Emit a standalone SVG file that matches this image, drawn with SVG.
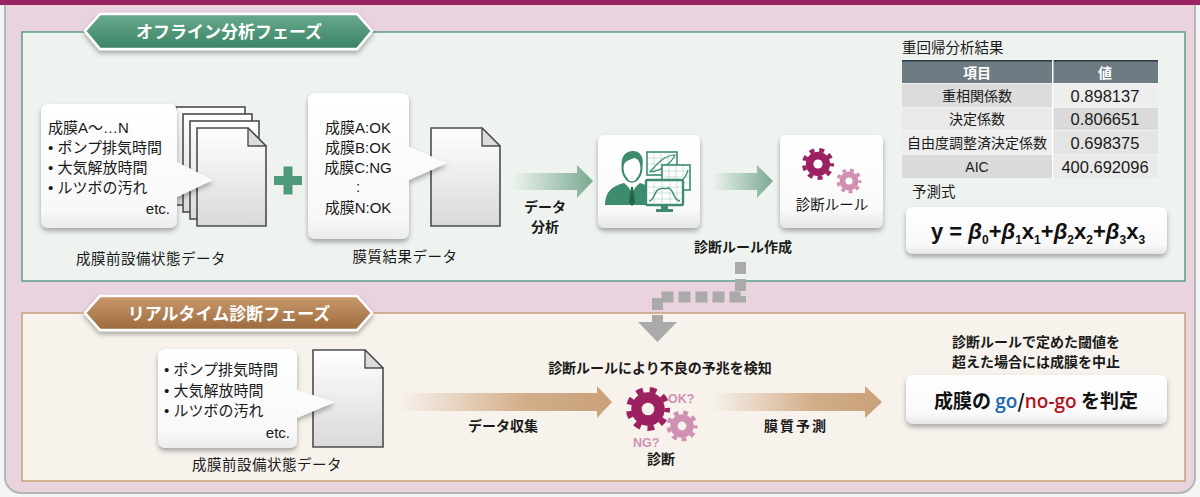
<svg xmlns="http://www.w3.org/2000/svg" width="1200" height="497" viewBox="0 0 1200 497">
  <style>
    .jp { font-family: "Liberation Sans", "Noto Sans CJK JP", sans-serif; fill: #1a1a1a; }
    .b { font-weight: 700; }
    .bubbletxt { font-size: 15px; }
    .lbl { font-size: 14.5px; letter-spacing: 0.5px; }
    .blbl { font-size: 14px; font-weight: 700; font-family: "Noto Sans CJK JP", sans-serif; fill: #1a1a1a; }
    .banner-t { font-family: "Noto Sans CJK JP", sans-serif; font-size: 17px; font-weight: 700; fill: #ffffff; }
    .doc { stroke: #4d4d4d; stroke-width: 1.6; fill: url(#docFill); }
    .fold { stroke: #4d4d4d; stroke-width: 1.4; fill: #dcdcdc; stroke-linejoin: round; }
    .bubble { fill: url(#bubFill); filter: url(#shadow); }
    .card { fill: url(#cardFill); filter: url(#shadow); }
    .cell { font-size: 14px; }
    .num { font-size: 16.5px; }
    .grid { stroke: #a8cdbd; stroke-width: 0.6; }
    .chart { fill: #ffffff; stroke: #3d8c6e; stroke-width: 1.6; }
  </style>
  <defs>
    <filter id="shadow" x="-20%" y="-20%" width="140%" height="150%">
      <feDropShadow dx="0" dy="3" stdDeviation="2.5" flood-color="#000" flood-opacity="0.32"/>
    </filter>
    <linearGradient id="docFill" x1="0" y1="0" x2="0" y2="1">
      <stop offset="0" stop-color="#ffffff"/>
      <stop offset="1" stop-color="#d9d9d9"/>
    </linearGradient>
    <linearGradient id="bubFill" x1="0" y1="0" x2="0" y2="1">
      <stop offset="0" stop-color="#ffffff"/>
      <stop offset="0.85" stop-color="#f8f8f8"/>
      <stop offset="1" stop-color="#ececec"/>
    </linearGradient>
    <linearGradient id="cardFill" x1="0" y1="0" x2="0" y2="1">
      <stop offset="0" stop-color="#ffffff"/>
      <stop offset="0.8" stop-color="#f9f9f9"/>
      <stop offset="1" stop-color="#e6e6e6"/>
    </linearGradient>
    <linearGradient id="greenBanner" x1="0" y1="0" x2="0" y2="1">
      <stop offset="0" stop-color="#6aaa8f"/>
      <stop offset="1" stop-color="#3a8364"/>
    </linearGradient>
    <linearGradient id="brownBanner" x1="0" y1="0" x2="0" y2="1">
      <stop offset="0" stop-color="#c99a6c"/>
      <stop offset="1" stop-color="#9c6a3d"/>
    </linearGradient>
    <linearGradient id="greenArrow" x1="0" y1="0" x2="1" y2="0">
      <stop offset="0" stop-color="#eef3ef"/>
      <stop offset="1" stop-color="#7aa991"/>
    </linearGradient>
    <linearGradient id="brownArrow" x1="0" y1="0" x2="1" y2="0">
      <stop offset="0" stop-color="#f7f2ec"/>
      <stop offset="0.6" stop-color="#d2ad88"/>
      <stop offset="1" stop-color="#c9a17b"/>
    </linearGradient>
    <!-- unit gear, coloured with currentColor -->
    <g id="gear">
      <circle r="0.76" fill="currentColor"/>
      <circle r="0.87" fill="none" stroke="currentColor" stroke-width="0.26" pathLength="80" stroke-dasharray="5 5" stroke-dashoffset="2.5"/>
    </g>
  </defs>

  <!-- frame -->
  <rect x="0" y="0" width="1200" height="497" fill="#f4f4f4"/>
  <rect x="5" y="-20" width="1190" height="513" rx="16" fill="#e8d3df" stroke="#b5b5b5" stroke-width="2"/>
  <rect x="0" y="0" width="1200" height="5" fill="#9a2262"/>

  <!-- offline phase panel -->
  <g id="offline-panel">
    <rect x="22" y="32" width="1163" height="249" fill="#eef3ef" stroke="#5c9f86" stroke-width="1.5"/>
    <g filter="url(#shadow)">
      <polygon points="85,31 100,14 357,14 372,31 357,49 100,49" fill="url(#greenBanner)" stroke="#ffffff" stroke-width="2.5"/>
    </g>
    <text x="229" y="38" text-anchor="middle" class="banner-t">オフライン分析フェーズ</text>
  </g>

  <!-- realtime phase panel -->
  <g id="realtime-panel">
    <rect x="22" y="313" width="1163" height="168" fill="#f7f2ec" stroke="#c8a07a" stroke-width="1.5"/>
    <g filter="url(#shadow)">
      <polygon points="85,313 100,296 357,296 372,313 357,330 100,330" fill="url(#brownBanner)" stroke="#ffffff" stroke-width="2.5"/>
    </g>
    <text x="229" y="320" text-anchor="middle" class="banner-t">リアルタイム診断フェーズ</text>
  </g>

  <!-- connectors -->
  <g id="connectors">
    <polygon points="512,173 577,173 577,165 593,181 577,198 577,190 512,190" fill="url(#greenArrow)"/>
    <polygon points="712,173 757,173 757,165 773,181 757,198 757,190 712,190" fill="url(#greenArrow)"/>
    <polygon points="400,393 597,393 597,386 612,402 597,418 597,411 400,411" fill="url(#brownArrow)"/>
    <polygon points="712,393 865,393 865,386 882,402 865,418 865,411 712,411" fill="url(#brownArrow)"/>
    <path d="M740.5,262 V297 H657.5 V322" fill="none" stroke="#aaaaaa" stroke-width="11" stroke-dasharray="12 5"/>
    <polygon points="638,322 677,322 657.5,342" fill="#aaaaaa"/>
    <text x="545" y="212" text-anchor="middle" class="blbl">データ</text>
    <text x="545" y="232" text-anchor="middle" class="blbl">分析</text>
    <text x="503" y="431" text-anchor="middle" class="blbl">データ収集</text>
    <text x="796" y="431" text-anchor="middle" class="blbl" letter-spacing="2">膜質予測</text>
  </g>

  <!-- pre-deposition equipment data (offline) -->
  <g id="node-equip-data">
    <rect x="176" y="107" width="69" height="98" class="doc"/>
    <rect x="183" y="114" width="69" height="98" class="doc"/>
    <rect x="190" y="121" width="69" height="98" class="doc"/>
    <path d="M197,128 H248 L266,146 V226 H197 Z" class="doc"/>
    <path d="M248,128 V146 H266 Z" class="fold"/>
    <path d="M49,104 H169 Q177,104 177,112 V162 L213,180 L177,197 V220 Q177,228 169,228 H49 Q41,228 41,220 V112 Q41,104 49,104 Z" class="bubble"/>
    <g class="jp bubbletxt">
      <text x="48" y="133">成膜A〜…N</text>
      <text x="48" y="153">• ポンプ排気時間</text>
      <text x="48" y="173">• 大気解放時間</text>
      <text x="48" y="193">• ルツボの汚れ</text>
      <text x="170" y="214" text-anchor="end">etc.</text>
    </g>
    <text x="151" y="264" text-anchor="middle" class="jp lbl">成膜前設備状態データ</text>
  </g>

  <!-- plus -->
  <g id="plus">
    <rect x="274" y="176" width="28" height="9" fill="#4f9a7c"/>
    <rect x="283.5" y="166.5" width="9" height="28" fill="#4f9a7c"/>
  </g>

  <!-- deposition result data -->
  <g id="node-result-data">
    <path d="M431,128 H482 L500,146 V226 H431 Z" class="doc"/>
    <path d="M482,128 V146 H500 Z" class="fold"/>
    <path d="M316,93 H401 Q409,93 409,101 V147 L447,163 L409,180 V231 Q409,239 401,239 H316 Q308,239 308,231 V101 Q308,93 316,93 Z" class="bubble"/>
    <g class="jp bubbletxt" text-anchor="middle">
      <text x="358" y="133">成膜A:OK</text>
      <text x="358" y="153">成膜B:OK</text>
      <text x="358" y="173">成膜C:NG</text>
      <text x="358" y="192">:</text>
      <text x="358" y="213">成膜N:OK</text>
    </g>
    <text x="405" y="262" text-anchor="middle" class="jp lbl">膜質結果データ</text>
  </g>

  <!-- analyst -->
  <g id="node-analyst">
    <rect x="598" y="135" width="102" height="93" rx="6" class="card"/>
    <!-- person -->
    <path d="M605,205 C605,192 612,186 624,183 L632,190 L640,183 C650,186 656,192 657,205 Z" fill="#3d8c6e"/>
    <path d="M626,183 L632,193 L638,183 L635,181 H629 Z" fill="#ffffff"/>
    <path d="M631,187 H633 L635,203 L632,206 L629,203 Z" fill="#24664c"/>
    <ellipse cx="632" cy="168" rx="9.5" ry="13" fill="#ffffff" stroke="#3d8c6e" stroke-width="2"/>
    <path d="M622,168 C620,156 626,151 633,151 C640,151 645,157 642,168 C641,161 638,159 634,158 C630,160 625,160 622,168 Z" fill="#3d8c6e"/>
    <rect x="628" y="178" width="8" height="6" fill="#ffffff"/>
    <path d="M626,179 Q632,185 638,179" fill="none" stroke="#3d8c6e" stroke-width="1.5"/>
    <!-- chart 1 -->
    <rect x="647" y="152" width="30" height="23" class="chart"/>
    <g class="grid">
      <path d="M654,153 V174 M661,153 V174 M668,153 V174 M648,158 H676 M648,164 H676 M648,170 H676"/>
    </g>
    <path d="M650,172 C656,165 664,155 675,155 C672,162 662,171 650,172 Z" fill="none" stroke="#3d8c6e" stroke-width="1.2"/>
    <!-- chart 2 -->
    <rect x="662" y="165" width="28" height="25" class="chart"/>
    <g class="grid">
      <path d="M669,166 V189 M676,166 V189 M683,166 V189 M663,171 H689 M663,177 H689 M663,183 H689"/>
    </g>
    <path d="M664,186 C675,186 685,182 688,170" fill="none" stroke="#3d8c6e" stroke-width="1.2"/>
    <!-- monitor -->
    <rect x="646" y="180" width="37" height="25" rx="1.5" fill="#ffffff" stroke="#3d8c6e" stroke-width="2.4"/>
    <g class="grid">
      <path d="M654,182 V203 M662,182 V203 M670,182 V203 M677,182 V203 M648,187 H681 M648,193 H681 M648,199 H681"/>
    </g>
    <path d="M649,201 C655,201 654,189 660,189 C662,187 666,190 668,188 C674,188 673,201 680,201" fill="none" stroke="#3d8c6e" stroke-width="1.4"/>
    <path d="M661,206 H668 V209 H673 V212 H656 V209 H661 Z" fill="#3d8c6e"/>
  </g>

  <!-- diagnosis rule -->
  <g id="node-rule">
    <rect x="780" y="135" width="103" height="93" rx="6" class="card"/>
    <use href="#gear" transform="translate(818,164) scale(16)" color="#9b2160"/>
    <circle cx="818" cy="164" r="4.6" fill="#ffffff"/>
    <use href="#gear" transform="translate(849,181) scale(12.5)" color="#cf90b2"/>
    <circle cx="849" cy="181" r="3.6" fill="#ffffff"/>
    <text x="832" y="210" text-anchor="middle" class="jp" font-size="14.5">診断ルール</text>
    <text x="743" y="252" text-anchor="middle" class="blbl" font-size="14.5">診断ルール作成</text>
  </g>

  <!-- regression results table -->
  <g id="node-table" class="jp">
    <text x="902" y="53" font-size="14.5">重回帰分析結果</text>
    <rect x="902" y="60" width="256" height="23" fill="#6d7b83"/>
    <rect x="902" y="60" width="256" height="1.5" fill="#2b3a40"/>
    <rect x="1052" y="60" width="1.5" height="118" fill="#ffffff"/>
    <rect x="902" y="84" width="150" height="23" fill="#dcdcdc"/>
    <rect x="1053.5" y="84" width="104.5" height="23" fill="#eeeeee"/>
    <rect x="902" y="108" width="150" height="22" fill="#eaeaea"/>
    <rect x="1053.5" y="108" width="104.5" height="22" fill="#dadada"/>
    <rect x="902" y="131" width="150" height="23" fill="#eeeeee"/>
    <rect x="1053.5" y="131" width="104.5" height="23" fill="#e4e4e4"/>
    <rect x="902" y="155" width="150" height="23" fill="#dadada"/>
    <rect x="1053.5" y="155" width="104.5" height="23" fill="#eaeaea"/>
    <text x="977" y="78" text-anchor="middle" class="cell b" style="fill:#ffffff">項目</text>
    <text x="1105" y="78" text-anchor="middle" class="cell b" style="fill:#ffffff">値</text>
    <g class="cell" text-anchor="middle">
      <text x="977" y="101">重相関係数</text>
      <text x="1105" y="102" class="num">0.898137</text>
      <text x="977" y="124">決定係数</text>
      <text x="1105" y="125" class="num">0.806651</text>
      <text x="977" y="148">自由度調整済決定係数</text>
      <text x="1105" y="149" class="num">0.698375</text>
      <text x="977" y="172">AIC</text>
      <text x="1105" y="173" class="num">400.692096</text>
    </g>
    <text x="912" y="197" font-size="14.5">予測式</text>
  </g>

  <!-- prediction formula -->
  <g id="node-formula">
    <rect x="906" y="207" width="261" height="47" rx="7" class="card"/>
    <text x="931" y="239" font-family="Liberation Sans, sans-serif" font-size="22" font-weight="700" fill="#111">y = <tspan font-style="italic">β</tspan><tspan dy="5" font-size="12">0</tspan><tspan dy="-5">+</tspan><tspan font-style="italic">β</tspan><tspan dy="5" font-size="12">1</tspan><tspan dy="-5">x</tspan><tspan dy="5" font-size="12">1</tspan><tspan dy="-5">+</tspan><tspan font-style="italic">β</tspan><tspan dy="5" font-size="12">2</tspan><tspan dy="-5">x</tspan><tspan dy="5" font-size="12">2</tspan><tspan dy="-5">+</tspan><tspan font-style="italic">β</tspan><tspan dy="5" font-size="12">3</tspan><tspan dy="-5">x</tspan><tspan dy="5" font-size="12">3</tspan></text>
  </g>

  <!-- pre-deposition equipment data (realtime) -->
  <g id="node-rt-data">
    <path d="M313,350 H365 L383,368 V447 H313 Z" class="doc"/>
    <path d="M365,350 V368 H383 Z" class="fold"/>
    <path d="M166,349 H289 Q297,349 297,357 V390 L335,402 L297,418 V440 Q297,448 289,448 H166 Q158,448 158,440 V357 Q158,349 166,349 Z" class="bubble"/>
    <g class="jp bubbletxt">
      <text x="164" y="375">• ポンプ排気時間</text>
      <text x="164" y="396">• 大気解放時間</text>
      <text x="164" y="416">• ルツボの汚れ</text>
      <text x="290" y="438" text-anchor="end">etc.</text>
    </g>
    <text x="267" y="470" text-anchor="middle" class="jp lbl">成膜前設備状態データ</text>
  </g>

  <!-- diagnosis -->
  <g id="node-diagnosis">
    <text x="660" y="373" text-anchor="middle" class="blbl" font-size="14.5">診断ルールにより不良の予兆を検知</text>
    <use href="#gear" transform="translate(648,409) scale(22)" color="#9b2160"/>
    <circle cx="648" cy="409" r="6.3" fill="#f7f2ec"/>
    <use href="#gear" transform="translate(682,426) scale(15.5)" color="#cf90b2"/>
    <circle cx="682" cy="426" r="4.4" fill="#f7f2ec"/>
    <text x="668" y="403" font-family="Liberation Sans, sans-serif" font-size="12.5" font-weight="700" fill="#cf90b2">OK?</text>
    <text x="633" y="447" font-family="Liberation Sans, sans-serif" font-size="12.5" font-weight="700" fill="#cf90b2">NG?</text>
    <text x="661" y="464" text-anchor="middle" class="blbl" font-size="14.5">診断</text>
  </g>

  <!-- go / no-go decision -->
  <g id="node-decision">
    <text x="1036" y="347" text-anchor="middle" class="blbl">診断ルールで定めた閾値を</text>
    <text x="1036" y="367" text-anchor="middle" class="blbl">超えた場合には成膜を中止</text>
    <rect x="906" y="375" width="261" height="49" rx="7" class="card"/>
    <text x="1036" y="408" text-anchor="middle" font-family="Noto Sans CJK JP, sans-serif" font-size="19" font-weight="700" fill="#111">成膜の <tspan fill="#1b66b0" font-family="Open Sans, Noto Sans, sans-serif" font-weight="600">go</tspan>/<tspan fill="#b3121c" font-family="Open Sans, Noto Sans, sans-serif" font-weight="600">no-go</tspan> を判定</text>
  </g>
</svg>
